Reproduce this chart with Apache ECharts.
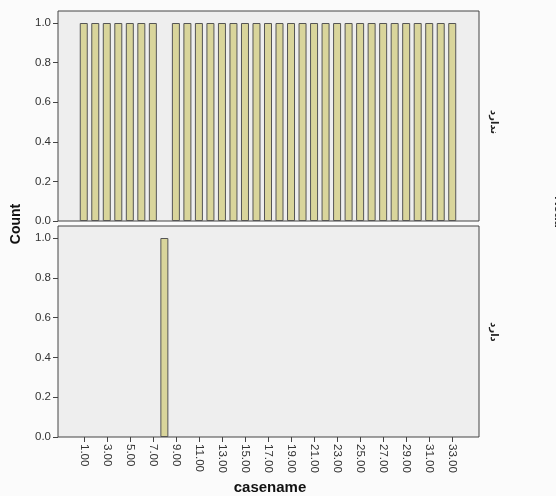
<!DOCTYPE html>
<html>
<head>
<meta charset="utf-8">
<script src="https://cdn.jsdelivr.net/npm/echarts@6/dist/echarts.min.js"></script>
<style>
html,body{margin:0;padding:0;background:#fbfbfb;}
#c{width:556px;height:496px;}
</style>
</head>
<body>
<div id="c"></div>
<script>
var categories = [];
for (var i = 1; i <= 33; i++) categories.push(i.toFixed(2));
var panelNames = ['ندارد', 'دارد'];
var countNo  = [1,1,1,1,1,1,1,0,1,1,1,1,1,1,1,1,1,1,1,1,1,1,1,1,1,1,1,1,1,1,1,1,1];
var countYes = [0,0,0,0,0,0,0,1,0,0,0,0,0,0,0,0,0,0,0,0,0,0,0,0,0,0,0,0,0,0,0,0,0];

function noZero(arr){ return arr.map(function(v){ return v === 0 ? '-' : v; }); }

var chart = echarts.init(document.getElementById('c'));
var FONT = 'Liberation Sans, Arial, sans-serif';
var barStyle = {color:'#d9d59b', borderColor:'#555', borderWidth:1};

function frameGrid(top, h){
  return {left:58, top:top, width:421, height:h, show:true, backgroundColor:'#eeeeee', borderColor:'#444', borderWidth:1};
}
function dataGrid(top, h){
  return {left:78, top:top, width:380, height:h};
}
function yAx(gi){
  return {type:'value', gridIndex:gi, min:0, max:1, interval:0.2, offset:20,
    axisLine:{show:false}, splitLine:{show:false},
    axisTick:{show:true, length:5, lineStyle:{color:'#444'}},
    axisLabel:{margin:7, color:'#333', fontSize:11.5, fontFamily:FONT, formatter:function(v){return v.toFixed(1);}}};
}

chart.setOption({
  animation:false,
  grid:[frameGrid(11,210), frameGrid(226,211), dataGrid(23,198), dataGrid(238,199)],
  xAxis:[
    {type:'value', gridIndex:0, show:false},
    {type:'value', gridIndex:1, show:false},
    {type:'category', gridIndex:2, data:categories, axisLine:{show:false}, axisTick:{show:false}, axisLabel:{show:false}},
    {type:'category', gridIndex:3, data:categories, axisLine:{show:false},
      axisTick:{show:true, alignWithLabel:true, interval:1, length:5, lineStyle:{color:'#444'}},
      axisLabel:{interval:1, rotate:-90, margin:7, color:'#333', fontSize:11.5, fontFamily:FONT}}
  ],
  yAxis:[
    {type:'value', gridIndex:0, show:false},
    {type:'value', gridIndex:1, show:false},
    yAx(2), yAx(3)
  ],
  series:[
    {type:'bar', xAxisIndex:2, yAxisIndex:2, data:noZero(countNo), barWidth:8, itemStyle:barStyle},
    {type:'bar', xAxisIndex:3, yAxisIndex:3, data:noZero(countYes), barWidth:8, itemStyle:barStyle}
  ],
  graphic:[
    {type:'text', x:16, y:224, rotation:Math.PI/2, style:{text:'Count', font:'bold 14px ' + FONT, fill:'#111', align:'center', verticalAlign:'middle'}},
    {type:'text', x:270, y:488, style:{text:'casename', font:'bold 15px ' + FONT, fill:'#111', align:'center', verticalAlign:'middle'}},
    {type:'text', x:494, y:122, rotation:-Math.PI/2, style:{text:panelNames[0], font:'bold 10px DejaVu Sans, sans-serif', fill:'#222', align:'center', verticalAlign:'middle'}},
    {type:'text', x:494, y:332, rotation:-Math.PI/2, style:{text:panelNames[1], font:'bold 10px DejaVu Sans, sans-serif', fill:'#222', align:'center', verticalAlign:'middle'}},
    {type:'text', x:559, y:212, rotation:-Math.PI/2, style:{text:'Read', font:'bold 13px ' + FONT, fill:'#222', align:'center', verticalAlign:'middle'}}
  ]
});
</script>
</body>
</html>
